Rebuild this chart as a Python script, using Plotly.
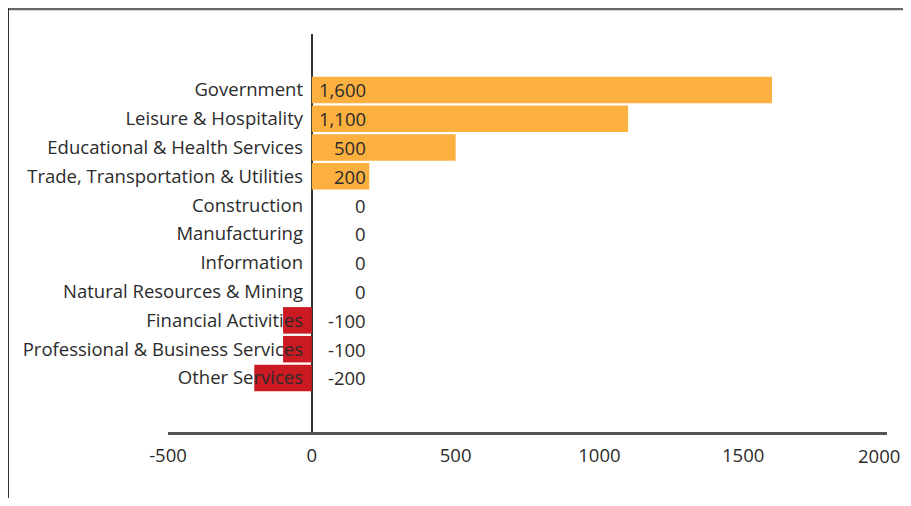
import plotly.graph_objects as go

categories = ["Government", "Leisure & Hospitality", "Educational & Health Services",
              "Trade, Transportation & Utilities", "Construction", "Manufacturing",
              "Information", "Natural Resources & Mining", "Financial Activities",
              "Professional & Business Services", "Other Services"]
values = [1600, 1100, 500, 200, 0, 0, 0, 0, -100, -100, -200]
value_labels = ["1,600", "1,100", "500", "200", "0", "0", "0", "0", "-100", "-100", "-200"]
x_ticks = [-500, 0, 500, 1000, 1500, 2000]

ORANGE = "#FBB040"
RED = "#CC1A23"
colors = [ORANGE if v >= 0 else RED for v in values]

FONT = "Open Sans"
FS = 18.5
TXT = "#2b2b2b"

# the page body adds an 8px offset; figure sized to fit the 911x506 window
W, H = 903, 490
L, R, T, B = 160, 24, 26, 66
pw, ph = W - L - R, H - T - B

fig = go.Figure()
fig.add_trace(go.Bar(
    x=values, y=categories, orientation="h",
    marker=dict(color=colors, line=dict(width=0)),
    hoverinfo="x+y",
))

for cat, lab in zip(categories, value_labels):
    fig.add_annotation(x=0, y=cat, text=lab, showarrow=False,
                       xanchor="right", xshift=56,
                       font=dict(family=FONT, size=FS, color=TXT))

# last tick label drawn as an annotation so it stays inside the visible page
inner_ticks = x_ticks[:-1]
last_tick = x_ticks[-1]
fig.add_annotation(x=last_tick, y=0, xref="x", yref="paper", yanchor="top",
                   text=str(last_tick), showarrow=False, xanchor="right",
                   xshift=15, yshift=-9,
                   font=dict(family=FONT, size=FS, color=TXT))

def px_x(p):
    return (p - L) / pw

def px_y(p):
    return 1 - (p - T) / ph

fig.add_shape(type="line", xref="paper", yref="paper",
              x0=px_x(0), x1=px_x(905), y0=px_y(1), y1=px_y(1),
              line=dict(color="#666666", width=2.5))
fig.add_shape(type="line", xref="paper", yref="paper",
              x0=px_x(0.5), x1=px_x(0.5), y0=px_y(0), y1=px_y(500),
              line=dict(color="#333333", width=1))

fig.update_layout(
    width=W, height=H,
    margin=dict(l=L, r=R, t=T, b=B, autoexpand=False),
    paper_bgcolor="white", plot_bgcolor="white",
    bargap=0.08,
    showlegend=False,
    font=dict(family=FONT, size=FS, color=TXT),
    xaxis=dict(range=[-500, 2000], tickvals=inner_ticks,
               ticktext=[str(t) for t in inner_ticks],
               showgrid=False, zeroline=True, zerolinecolor="#333333",
               zerolinewidth=1.5, showline=True, linecolor="#555555",
               linewidth=2.5, ticks="", ticklen=0, automargin=False,
               ticklabelstandoff=5,
               tickfont=dict(family=FONT, size=FS, color=TXT)),
    yaxis=dict(categoryorder="array", categoryarray=categories,
               range=[len(categories) - 1 + 1.875, -1.94],
               showgrid=False, zeroline=False, showline=False, ticks="",
               ticklabelstandoff=-136, automargin=False,
               tickfont=dict(family=FONT, size=FS, color=TXT)),
)

fig.write_html("out.html")
